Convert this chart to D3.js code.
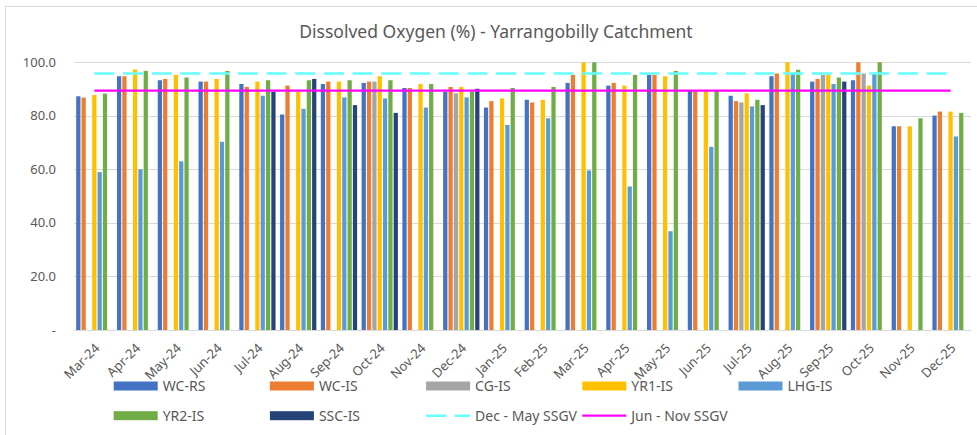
<!DOCTYPE html>
<html>
<head>
<meta charset="utf-8">
<script src="https://cdn.jsdelivr.net/npm/d3@7"></script>
<style>
	body { margin: 0; background: #fff; }
	text { font-family: "Noto Sans", "Liberation Sans", sans-serif; fill: #595959; }
</style>
</head>
<body>
<div id="vis"></div>
<script>

var months = ["Mar-24","Apr-24","May-24","Jun-24","Jul-24","Aug-24","Sep-24","Oct-24","Nov-24","Dec-24","Jan-25",
	"Feb-25","Mar-25","Apr-25","May-25","Jun-25","Jul-25","Aug-25","Sep-25","Oct-25","Nov-25","Dec-25"];

var seriesNames = ["WC-RS","WC-IS","CG-IS","YR1-IS","LHG-IS","YR2-IS","SSC-IS"];
var seriesColours = ["#4472C4","#ED7D31","#A5A5A5","#FFC000","#5B9BD5","#70AD47","#264478"];

var wcRS  = [87.3,94.8,93.3,92.8,91.9,80.5,91.9,92.3,90.4,89.0,83.1,86.0,92.3,91.3,95.3,89.4,87.5,94.8,92.8,93.3,76.1,80.1];
var wcIS  = [86.8,94.8,93.8,92.8,90.8,91.3,92.8,92.8,90.4,90.8,85.5,85.0,95.3,92.3,95.3,89.4,85.5,95.8,93.8,100,76.1,81.6];
var cgIS  = [null,null,null,null,null,null,null,92.8,null,88.4,null,null,null,null,null,null,85.0,null,95.3,95.8,null,null];
var yr1IS = [87.8,97.3,95.3,93.8,92.8,89.0,92.8,94.8,91.9,90.8,86.5,86.0,100,91.3,94.8,89.4,88.4,100,95.3,91.3,76.1,81.6];
var lhgIS = [59.0,60.0,63.0,70.3,87.5,82.6,86.9,86.5,83.1,86.9,76.6,79.1,59.6,53.6,36.9,68.4,83.5,95.8,91.9,95.8,null,72.3];
var yr2IS = [88.3,96.8,94.3,96.8,93.3,93.3,93.3,93.3,91.9,89.0,90.4,90.8,100,95.3,96.8,89.4,86.0,97.2,94.3,100,79.1,81.1];
var sscIS = [null,null,null,null,89.0,93.8,84.0,81.1,null,90.1,null,null,null,null,null,null,84.0,null,92.8,null,null,null];

var decMaySSGV = [95.8,95.8,95.8,95.8,95.8,95.8,95.8,95.8,95.8,95.8,95.8,95.8,95.8,95.8,95.8,95.8,95.8,95.8,95.8,95.8,95.8,95.8];
var junNovSSGV = [89.4,89.4,89.4,89.4,89.4,89.4,89.4,89.4,89.4,89.4,89.4,89.4,89.4,89.4,89.4,89.4,89.4,89.4,89.4,89.4,89.4,89.4];

var yTicks = [0,20,40,60,80,100];

var W = 977, H = 435;

var svg = d3.select("#vis").append("svg")
.attr("width", W)
.attr("height", H);

// outer chart border (only left/top show in the picture)
svg.append("rect")
.attr("x", 5.5)
.attr("y", 6.5)
.attr("width", 1000)
.attr("height", 500)
.attr("fill", "none")
.attr("stroke", "#d9d9d9");

svg.append("text")
.attr("x", 496)
.attr("y", 38)
.attr("text-anchor", "middle")
.attr("font-size", 17.5)
.text("Dissolved Oxygen (%) - Yarrangobilly Catchment");

var x = d3.scaleBand()
.domain(months)
.range([74, 971])
.paddingInner(0)
.paddingOuter(0);

var xInner = d3.scaleBand()
.domain(seriesNames)
.range([1.7, x.bandwidth() - 1.7]);

var y = d3.scaleLinear()
.domain([0, 100])
.range([330, 62.3]);

// gridlines
svg.append("g")
.selectAll("line")
.data(yTicks)
.enter()
.append("line")
.attr("x1", 74)
.attr("x2", 971)
.attr("y1", function (d) { return Math.round(y(d)) + 0.5; })
.attr("y2", function (d) { return Math.round(y(d)) + 0.5; })
.attr("stroke", "#d9d9d9")
.attr("stroke-width", 1);

svg.append("g")
.selectAll("text")
.data(yTicks)
.enter()
.append("text")
.attr("x", 56)
.attr("y", function (d) { return y(d) + 4.5; })
.attr("text-anchor", "end")
.attr("font-size", 13)
.text(function (d) {
	if (d === 0) {
		return "-";
	}
	return d.toFixed(1);
});

var allSeries = [wcRS, wcIS, cgIS, yr1IS, lhgIS, yr2IS, sscIS];

var barData = [];
allSeries.forEach(function (vals, s) {
	vals.forEach(function (v, i) {
		if (v !== null) {
			barData.push({ month: months[i], series: seriesNames[s], colour: seriesColours[s], value: v });
		}
	});
});

svg.append("g")
.selectAll("rect")
.data(barData)
.enter()
.append("rect")
.attr("x", function (d) { return x(d.month) + xInner(d.series) + 0.5; })
.attr("width", xInner.bandwidth() - 1.1)
.attr("y", function (d) { return y(d.value); })
.attr("height", function (d) { return y(0) - y(d.value); })
.attr("fill", function (d) { return d.colour; });

// x labels
svg.append("g")
.selectAll("text")
.data(months)
.enter()
.append("text")
.attr("text-anchor", "end")
.attr("font-size", 13)
.attr("transform", function (d) {
	return "translate(" + (x(d) + x.bandwidth() / 2 + 6) + ",349) rotate(-45)";
})
.text(function (d) { return d; });

// SSGV lines
var line = d3.line()
.x(function (d, i) { return x(months[i]) + x.bandwidth() / 2; })
.y(function (d) { return y(d); });

svg.append("path")
.datum(decMaySSGV)
.attr("d", line)
.attr("fill", "none")
.attr("stroke", "#66FFFF")
.attr("stroke-width", 2.5)
.attr("stroke-dasharray", "20,8.7");

svg.append("path")
.datum(junNovSSGV)
.attr("d", line)
.attr("fill", "none")
.attr("stroke", "#FF00FF")
.attr("stroke-width", 2.3);

// legend
var legendItems = seriesNames.map(function (n, i) {
	return { name: n, colour: seriesColours[i], type: "bar" };
});
legendItems.push({ name: "Dec - May SSGV", colour: "#66FFFF", type: "dash" });
legendItems.push({ name: "Jun - Nov SSGV", colour: "#FF00FF", type: "line" });

var legend = svg.append("g")
.selectAll(".key-group")
.data(legendItems)
.enter()
.append("g")
.attr("class", "key-group")
.attr("transform", function (d, i) {
	return "translate(" + (113.7 + (i % 5) * 156.2) + "," + (386 + Math.floor(i / 5) * 29.7) + ")";
});

legend
.filter(function (d) { return d.type === "bar"; })
.append("rect")
.attr("x", 0)
.attr("y", -4.5)
.attr("width", 44)
.attr("height", 9)
.attr("fill", function (d) { return d.colour; });

legend
.filter(function (d) { return d.type !== "bar"; })
.append("line")
.attr("x1", 0)
.attr("x2", 44)
.attr("y1", 0)
.attr("y2", 0)
.attr("stroke", function (d) { return d.colour; })
.attr("stroke-width", function (d) { return d.type === "dash" ? 2.5 : 2.3; })
.attr("stroke-dasharray", function (d) { return d.type === "dash" ? "20,8.7" : null; });

legend
.append("text")
.attr("x", 49)
.attr("y", 5)
.attr("font-size", 14)
.text(function (d) { return d.name; });

</script>
</body>
</html>
